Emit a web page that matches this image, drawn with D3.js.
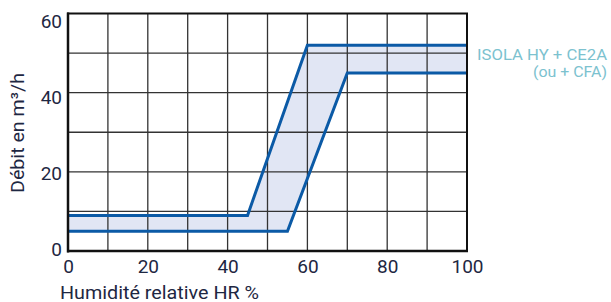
<!DOCTYPE html>
<html><head><meta charset="utf-8">
<script src="https://cdn.jsdelivr.net/npm/d3@7"></script>
<style>body{margin:0;background:#fff}svg{display:block}</style>
</head><body>
<svg id="c" width="611" height="302"></svg>
<script>
const xTicks = [0, 20, 40, 60, 80, 100];
const yTicks = [0, 20, 40, 60];
const upperX = [0, 45, 60, 100];
const upperY = [9, 9, 52, 52];
const lowerX = [0, 55, 70, 100];
const lowerY = [5, 5, 45, 45];
const seriesLabel = ["ISOLA HY + CE2A", "(ou + CFA)"];
const xTitle = "Humidité relative HR %";
const yTitle = "Débit en m³/h";

const svg = d3.select("#c");
const font = "Roboto, 'DejaVu Sans', sans-serif";
const ink = "#1e2742";
const x = d3.scaleLinear().domain([0, 100]).range([68, 467]);
const y = d3.scaleLinear().domain([0, 60]).range([251, 13.5]);
const yLab = d3.scaleLinear().domain([0, 60]).range([249.5, 21]);

const upper = upperX.map((v, i) => [v, upperY[i]]);
const lower = lowerX.map((v, i) => [v, lowerY[i]]);

// band fill
const poly = upper.concat(lower.slice().reverse());
svg.append("path")
  .attr("d", d3.line().x(d => x(d[0])).y(d => y(d[1]))(poly) + "Z")
  .attr("fill", "#e1e6f4");

// grid
const g = svg.append("g");
g.selectAll(".v").data(d3.range(10, 100, 10)).join("line")
  .attr("x1", d => x(d)).attr("x2", d => x(d))
  .attr("y1", y(0)).attr("y2", y(60))
  .attr("stroke", "#333").attr("stroke-width", 1.3);
g.selectAll(".h").data(d3.range(10, 60, 10)).join("line")
  .attr("x1", x(0)).attr("x2", x(100))
  .attr("y1", d => y(d)).attr("y2", d => y(d))
  .attr("stroke", "#333").attr("stroke-width", 1.3);

// series lines
const line = d3.line().x(d => x(d[0])).y(d => y(d[1]));
[upper, lower].forEach(s => {
  svg.append("path").attr("d", line(s)).attr("fill", "none")
    .attr("stroke", "#0b5aa6").attr("stroke-width", 3).attr("stroke-linejoin", "miter");
});

// frame
svg.append("rect").attr("x", x(0)).attr("y", y(60))
  .attr("width", x(100) - x(0)).attr("height", y(0) - y(60))
  .attr("fill", "none").attr("stroke", "#111").attr("stroke-width", 2);
svg.append("line").attr("x1", x(0)).attr("x2", x(0)).attr("y1", y(60)-1).attr("y2", y(0)+1.5)
  .attr("stroke", "#111").attr("stroke-width", 2.5);
svg.append("line").attr("x1", x(0)-1).attr("x2", x(100)+1).attr("y1", y(0)).attr("y2", y(0))
  .attr("stroke", "#111").attr("stroke-width", 2.5);

// axes via d3
const xAxis = svg.append("g").attr("transform", `translate(0,${y(0)})`)
  .call(d3.axisBottom(x).tickValues(xTicks).tickSize(0).tickPadding(8));
const yAxis = svg.append("g").attr("transform", `translate(${x(0)},0)`)
  .call(d3.axisLeft(yLab).tickValues(yTicks).tickSize(0).tickPadding(6));
[xAxis, yAxis].forEach(a => {
  a.select(".domain").remove();
  a.selectAll("text").attr("font-family", font).attr("font-size", 19)
    .attr("fill", ink);
});
xAxis.selectAll("text").attr("y", 22).attr("dy", null);

svg.append("text").attr("x", 60).attr("y", 299)
  .attr("font-family", font).attr("font-size", 18).attr("fill", ink)
  .attr("textLength", 199).attr("lengthAdjust", "spacingAndGlyphs").text(xTitle);
svg.append("text").attr("transform", "translate(24,133) rotate(-90)")
  .attr("text-anchor", "middle")
  .attr("font-family", font).attr("font-size", 18.5).attr("fill", ink)
  .attr("textLength", 120).attr("lengthAdjust", "spacingAndGlyphs").text(yTitle);

const lens = [130, 74];
svg.selectAll(".lab").data(seriesLabel).join("text")
  .attr("x", (d, i) => 607 - lens[i]).attr("y", (d, i) => 60 + i * 16.5)
  .attr("font-family", font).attr("font-size", 15.5).attr("fill", "#7cc2cf")
  .attr("textLength", (d, i) => lens[i]).attr("lengthAdjust", "spacingAndGlyphs")
  .text(d => d);
</script>
</body></html>
